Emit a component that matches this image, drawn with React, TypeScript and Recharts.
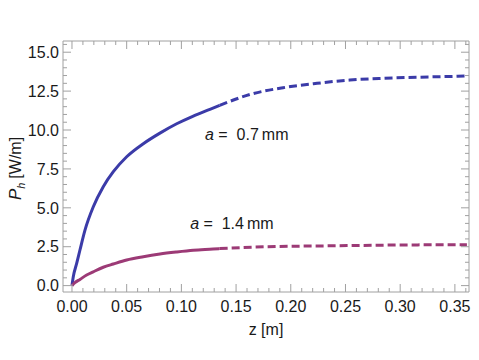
import { LineChart, Line, XAxis, YAxis, ReferenceDot } from 'recharts';

const FONT = "'Liberation Sans', Arial, sans-serif";
const FRAME = '#a0a0a0';
const INK = '#1a1a1a';
const BLUE = '#3b3ba8';
const MAGENTA = '#9c3a76';

// measured (solid) and extrapolated (dashed) parts, [z (m), P_h (W/m)]
const blueMeasured = [
  [0, 0], [0.0012, 0.57], [0.0043, 1.43], [0.0073, 2.29], [0.0119, 3.57], [0.0195, 5.07],
  [0.0286, 6.36], [0.0378, 7.32], [0.05, 8.28], [0.0652, 9.12], [0.0804, 9.8],
  [0.0957, 10.4], [0.1109, 10.9], [0.1261, 11.33], [0.135, 11.58],
];
const blueFit = [
  [0.135, 11.58], [0.163, 12.29], [0.193, 12.72], [0.224, 13.0], [0.254, 13.21],
  [0.285, 13.32], [0.315, 13.39], [0.345, 13.44], [0.361, 13.47],
];
const magentaMeasured = [
  [0, 0], [0.0027, 0.19], [0.0073, 0.4], [0.0134, 0.68], [0.0195, 0.89], [0.0286, 1.18],
  [0.0378, 1.39], [0.05, 1.65], [0.0652, 1.86], [0.0804, 2.03], [0.0957, 2.16],
  [0.1109, 2.27], [0.129, 2.35], [0.135, 2.38],
];
const magentaFit = [
  [0.135, 2.38], [0.178, 2.5], [0.239, 2.56], [0.3, 2.61], [0.361, 2.63],
];

const xTicks = [
  0, 0.01, 0.02, 0.03, 0.04, 0.05, 0.06, 0.07, 0.08, 0.09, 0.1, 0.11, 0.12, 0.13, 0.14,
  0.15, 0.16, 0.17, 0.18, 0.19, 0.2, 0.21, 0.22, 0.23, 0.24, 0.25, 0.26, 0.27, 0.28,
  0.29, 0.3, 0.31, 0.32, 0.33, 0.34, 0.35, 0.36,
];
const yTicks = [
  0, 0.5, 1, 1.5, 2, 2.5, 3, 3.5, 4, 4.5, 5, 5.5, 6, 6.5, 7, 7.5, 8, 8.5, 9, 9.5, 10,
  10.5, 11, 11.5, 12, 12.5, 13, 13.5, 14, 14.5, 15, 15.5,
];

const toPts = (arr: number[][]) => arr.map(([z, p]) => ({ z, p }));

const isMajorX = (v: number) => Math.round(v * 100) % 5 === 0;
const isMajorY = (v: number) => Math.round(v * 2) % 5 === 0;

function BottomTick({ x, y, payload }: any) {
  const major = isMajorX(payload.value);
  return (
    <g>
      <line x1={x} x2={x} y1={y} y2={y - (major ? 8 : 4)} stroke={FRAME} />
      {major && (
        <text x={x} y={y + 20} textAnchor="middle" fontSize={16} fontFamily={FONT} fill={INK}>
          {payload.value.toFixed(2)}
        </text>
      )}
    </g>
  );
}

function TopTick({ x, y, payload }: any) {
  const major = isMajorX(payload.value);
  return <line x1={x} x2={x} y1={y} y2={y + (major ? 8 : 4)} stroke={FRAME} />;
}

function LeftTick({ x, y, payload }: any) {
  const major = isMajorY(payload.value);
  return (
    <g>
      <line x1={x} x2={x + (major ? 8 : 4)} y1={y} y2={y} stroke={FRAME} />
      {major && (
        <text x={x - 4} y={y} dy="0.36em" textAnchor="end" fontSize={16} fontFamily={FONT} fill={INK}>
          {payload.value.toFixed(1)}
        </text>
      )}
    </g>
  );
}

function RightTick({ x, y, payload }: any) {
  const major = isMajorY(payload.value);
  return <line x1={x} x2={x - (major ? 8 : 4)} y1={y} y2={y} stroke={FRAME} />;
}

function Annotation({ cx, cy, value }: any) {
  return (
    <text x={cx} y={cy} dy="0.36em" fontSize={16} fontFamily={FONT} fill={INK}>
      <tspan fontStyle="italic">a</tspan>
      <tspan>{'\u00a0= \u00a0' + value}</tspan>
      <tspan dx={3}>mm</tspan>
    </text>
  );
}

export default function App() {
  return (
    <div style={{ position: 'absolute', left: 0, top: 0, background: '#fff' }}>
      <LineChart width={479} height={360} margin={{ top: 40, right: 9, bottom: 67, left: 62 }}>
        <XAxis
          xAxisId="b" type="number" dataKey="z" domain={[-0.0082, 0.3629]} allowDataOverflow
          ticks={xTicks} interval={0} tickSize={0} tickMargin={0} tickLine={false}
          axisLine={{ stroke: FRAME }} tick={<BottomTick />} height={1}
          label={{
            content: ({ viewBox }: any) => (
              <text x={viewBox.x + viewBox.width / 2} y={viewBox.y + 43} textAnchor="middle"
                fontSize={16} fontFamily={FONT} fill={INK}>z [m]</text>
            ),
          }}
        />
        <XAxis
          xAxisId="t" orientation="top" type="number" dataKey="z" domain={[-0.0082, 0.3629]}
          allowDataOverflow ticks={xTicks} interval={0} tickSize={0} tickMargin={0}
          tickLine={false} axisLine={{ stroke: FRAME }} tick={<TopTick />} height={1}
        />
        <YAxis
          yAxisId="l" type="number" domain={[-0.41, 15.72]} allowDataOverflow ticks={yTicks}
          interval={0} tickSize={0} tickMargin={0} tickLine={false} axisLine={{ stroke: FRAME }}
          tick={<LeftTick />} width={1}
          label={{
            content: ({ viewBox }: any) => {
              const lx = viewBox.x - 41;
              const ly = viewBox.y + viewBox.height / 2 + 2;
              return (
                <text x={lx} y={ly} transform={`rotate(-90, ${lx}, ${ly})`} textAnchor="middle"
                  fontSize={16} fontFamily={FONT} fill={INK}>
                  <tspan fontStyle="italic" fontSize={17}>P</tspan>
                  <tspan fontStyle="italic" fontSize={11} dy={4}>h</tspan>
                  <tspan dy={-4} dx={4}>{'[W/m]'}</tspan>
                </text>
              );
            },
          }}
        />
        <YAxis
          yAxisId="r" orientation="right" type="number" domain={[-0.41, 15.72]} allowDataOverflow
          ticks={yTicks} interval={0} tickSize={0} tickMargin={0} tickLine={false}
          axisLine={{ stroke: FRAME }} tick={<RightTick />} width={1}
        />
        <Line xAxisId="b" yAxisId="l" data={toPts(blueMeasured)} dataKey="p" type="monotone"
          stroke={BLUE} strokeWidth={3} dot={false} isAnimationActive={false} />
        <Line xAxisId="b" yAxisId="l" data={toPts(blueFit)} dataKey="p" type="monotone"
          stroke={BLUE} strokeWidth={3} strokeDasharray="8 4" dot={false} isAnimationActive={false} />
        <Line xAxisId="b" yAxisId="l" data={toPts(magentaMeasured)} dataKey="p" type="monotone"
          stroke={MAGENTA} strokeWidth={3} dot={false} isAnimationActive={false} />
        <Line xAxisId="b" yAxisId="l" data={toPts(magentaFit)} dataKey="p" type="monotone"
          stroke={MAGENTA} strokeWidth={3} strokeDasharray="8 4" dot={false} isAnimationActive={false} />
        <ReferenceDot xAxisId="b" yAxisId="l" x={0.1216} y={9.74} r={0}
          shape={(p: any) => <Annotation {...p} value="0.7" />} />
        <ReferenceDot xAxisId="b" yAxisId="l" x={0.108} y={4.02} r={0}
          shape={(p: any) => <Annotation {...p} value="1.4" />} />
      </LineChart>
    </div>
  );
}
